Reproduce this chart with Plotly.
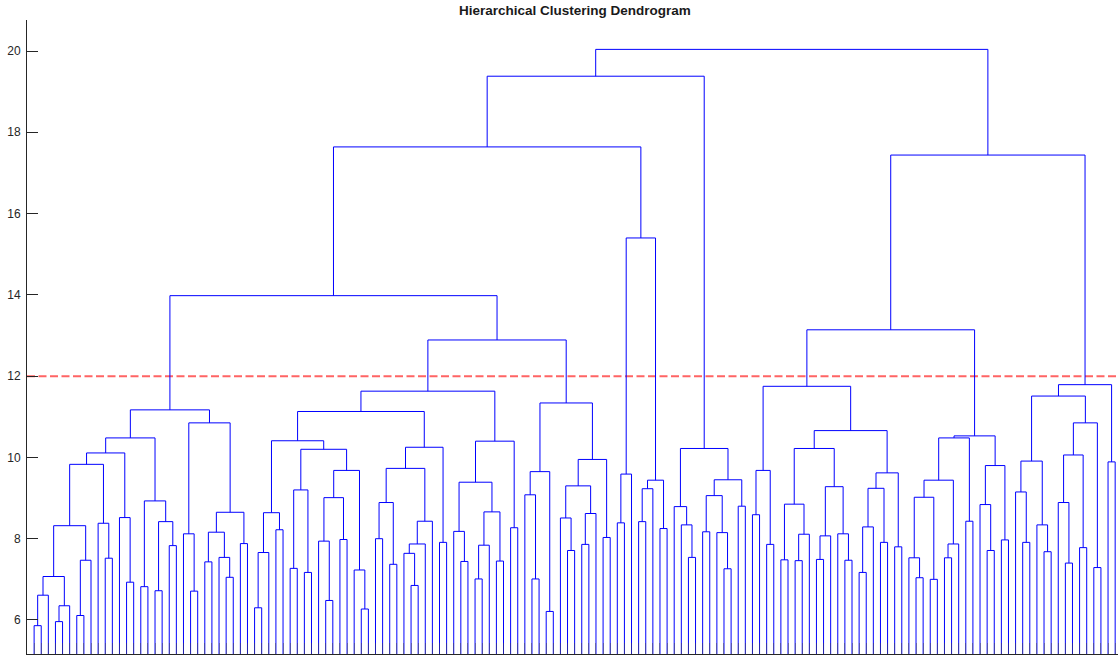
import plotly.graph_objects as go

# Tree nodes are (left, right, merge height); leaves are their 1-based
# positions along the x axis, left to right.
cluster_a = (
    (
        (
            (
                (
                    (((1, 2, 5.86), 3, 6.61), ((4, 5, 5.96), 6, 6.35), 7.07),
                    ((7, 8, 6.11), 9, 7.47),
                    8.32),
                (10, (11, 12, 7.52), 8.38),
                9.83),
            (13, (14, 15, 6.93), 8.52),
            10.11),
        ((16, 17, 6.82), ((18, 19, 6.72), (20, 21, 7.83), 8.42), 8.93),
        10.48),
    ((22, (23, 24, 6.71), 8.12),
     (((25, 26, 7.43), (27, (28, 29, 7.05), 7.54), 8.16), (30, 31, 7.88), 8.65),
     10.85),
    11.17)

cluster_b = (
    (
        ((((32, 33, 6.30), 34, 7.66), (35, 36, 8.22), 8.64),
         (((37, 38, 7.27), (39, 40, 7.17), 9.20),
          (((41, (42, 43, 6.48), 7.94), (44, 45, 7.98), 9.01),
           (46, (47, 48, 6.27), 7.23),
           9.68),
          10.20),
         10.41),
        ((((49, 50, 8.00), (51, 52, 7.37), 8.89),
          (((53, (54, 55, 6.85), 7.64), 56, 7.87), 57, 8.43),
          9.73),
         (58, 59, 7.91),
         10.25),
        11.13),
    (((60, (61, 62, 7.44), 8.18),
      (((63, 64, 7.01), 65, 7.84), (66, 67, 7.45), 8.66),
      9.39),
     (68, 69, 8.27),
     10.40),
    11.63)

cluster_c = (
    ((70, (71, 72, 7.01), 9.08), (73, 74, 6.21), 9.65),
    (((75, (76, 77, 7.71), 8.51), ((78, 79, 7.86), 80, 8.62), 9.30),
     (81, 82, 8.03),
     9.95),
    11.34)

cluster_d = (
    ((83, 84, 8.39), 85, 9.59),
    (((86, 87, 8.42), 88, 9.23), (89, 90, 8.25), 9.44),
    15.40)

cluster_e = (
    (91, (92, (93, 94, 7.54), 8.34), 8.79),
    (((95, 96, 8.17), (97, (98, 99, 7.26), 8.15), 9.06), (100, 101, 8.80), 9.45),
    10.22)

cluster_f = (
    ((102, 103, 8.59), (104, 105, 7.86), 9.68),
    ((((106, 107, 7.48), ((108, 109, 7.46), 110, 8.11), 8.85),
      (((111, 112, 7.49), 113, 8.07), (114, (115, 116, 7.47), 8.12), 9.28),
      10.22),
     ((((117, 118, 7.17), 119, 8.29), (120, 121, 7.91), 9.24),
      (122, 123, 7.80),
      9.62),
     10.66),
    11.75)

cluster_g = (
    ((((124, (125, 126, 7.04), 7.53), (127, 128, 7.00), 9.02),
      ((129, 130, 7.53), 131, 7.87),
      9.44),
     (132, 133, 8.43),
     10.48),
    ((134, (135, 136, 7.71), 8.84), (137, 138, 7.97), 9.80),
    10.53)

cluster_h = (
    (((139, (140, 141, 7.91), 9.15), (142, (143, 144, 7.68), 8.34), 9.91),
     (((145, (146, 147, 7.40), 8.89), (148, 149, 7.78), 10.06),
      (150, 151, 7.29),
      10.85),
     11.51),
    (152, 153, 9.89),
    11.79)

# Heights of the links that join the clusters above
upper_heights = {
    "bc": 12.89, "abc": 13.98, "abcd": 17.64, "left": 19.38,
    "fg": 13.14, "right": 17.44, "root": 20.04,
}

cut_height = 12.0
n_leaves = 153
y_ticks = [6, 8, 10, 12, 14, 16, 18, 20]

node_bc = (cluster_b, cluster_c, upper_heights["bc"])
node_abc = (cluster_a, node_bc, upper_heights["abc"])
node_abcd = (node_abc, cluster_d, upper_heights["abcd"])
node_left = (node_abcd, cluster_e, upper_heights["left"])
node_fg = (cluster_f, cluster_g, upper_heights["fg"])
node_right = (node_fg, cluster_h, upper_heights["right"])
root = (node_left, node_right, upper_heights["root"])

xs, ys, leaf_order = [], [], []


def place(node):
    """Return (x, height) of a node and collect its U-shaped link."""
    if isinstance(node, int):
        leaf_order.append(node)
        return float(node), 0.0
    left, right, h = node
    xl, hl = place(left)
    xr, hr = place(right)
    xs.extend([xl, xl, xr, xr, None])
    ys.extend([hl, h, h, hr, None])
    return (xl + xr) / 2.0, h


place(root)
assert leaf_order == list(range(1, n_leaves + 1)), leaf_order

fig = go.Figure()
fig.add_trace(go.Scatter(
    x=xs, y=ys, mode="lines",
    line=dict(color="#0000ff", width=1),
    hoverinfo="skip", showlegend=False,
))

fig.add_shape(
    type="line", xref="paper", yref="y", x0=0, x1=1, y0=cut_height, y1=cut_height,
    line=dict(color="#ff6464", width=2, dash="8px,3.5px"), layer="below",
)

font = "Liberation Sans, Arial, Helvetica, sans-serif"
fig.update_layout(
    width=1118, height=656,
    margin=dict(l=27, r=0, t=20, b=2),
    paper_bgcolor="white", plot_bgcolor="white",
    font=dict(family=font, size=12, color="#262626"),
    xaxis=dict(
        range=[0, 153.4], tickvals=list(range(1, n_leaves + 1)),
        ticks="inside", ticklen=11, tickcolor="rgba(70,70,70,0.45)",
        showticklabels=False, showline=True, linecolor="#262626", linewidth=1,
        showgrid=False, zeroline=False,
    ),
    yaxis=dict(
        range=[5.163, 20.763], tickvals=y_ticks,
        ticks="inside", ticklen=11, tickcolor="#262626",
        showline=True, linecolor="#262626", linewidth=1,
        showgrid=False, zeroline=False, ticklabelstandoff=3,
        tickfont=dict(family=font, size=12, color="#262626"),
    ),
    annotations=[dict(
        text="<b>Hierarchical Clustering Dendrogram</b>",
        xref="paper", yref="paper", x=0.5022, y=1.0148,
        xanchor="center", yanchor="middle", showarrow=False,
        font=dict(family=font, size=13.5, color="#1a1a1a"),
    )],
)

fig.write_html("out.html")
